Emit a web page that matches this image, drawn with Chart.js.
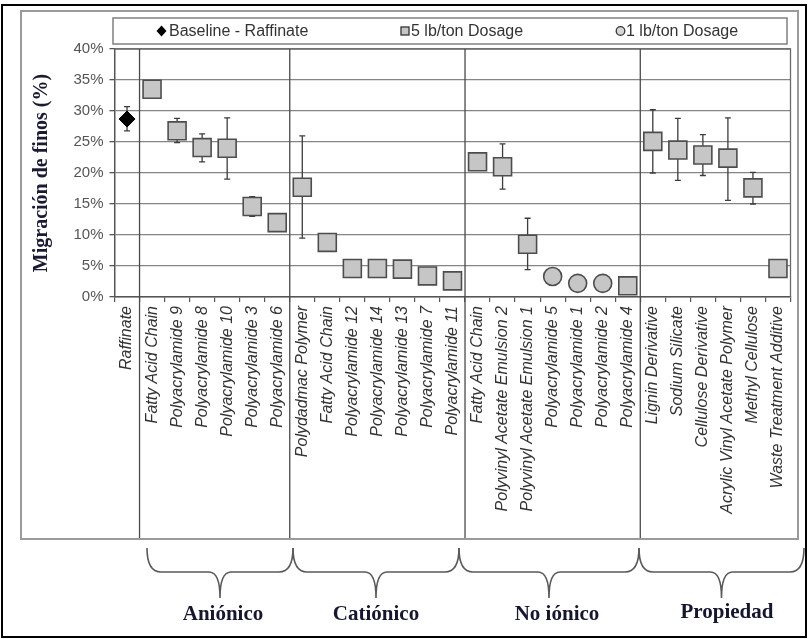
<!DOCTYPE html>
<html><head><meta charset="utf-8">
<script src="https://cdn.jsdelivr.net/npm/chart.js@4.4.1/dist/chart.umd.min.js"></script>
<style>html,body{margin:0;padding:0;background:#fff;} #wrap{width:809px;height:639px;position:relative;}</style>
</head><body><div id="wrap"><canvas id="c" width="809" height="639"></canvas></div>
<script>
const categories = ['Raffinate','Fatty Acid Chain','Polyacrylamide 9','Polyacrylamide 8','Polyacrylamide 10','Polyacrylamide 3','Polyacrylamide 6','Polydadmac Polymer','Fatty Acid Chain','Polyacrylamide 12','Polyacrylamide 14','Polyacrylamide 13','Polyacrylamide 7','Polyacrylamide 11','Fatty Acid Chain','Polyvinyl Acetate Emulsion 2','Polyvinyl Acetate Emulsion 1','Polyacrylamide 5','Polyacrylamide 1','Polyacrylamide 2','Polyacrylamide 4','Lignin Derivative','Sodium Silicate','Cellulose Derivative','Acrylic Vinyl Acetate Polymer','Methyl Cellulose','Waste Treatment Additive'];
const baselineValues = [28.7,null,null,null,null,null,null,null,null,null,null,null,null,null,null,null,null,null,null,null,null,null,null,null,null,null,null];
const dose5Values = [null,33.5,26.8,24.1,24.0,14.6,12.0,17.7,8.8,4.6,4.6,4.5,3.4,2.6,21.8,21.0,8.5,null,null,null,1.8,25.1,23.7,22.9,22.4,17.6,4.6];
const dose1Values = [null,null,null,null,null,null,null,null,null,null,null,null,null,null,null,null,null,3.3,2.2,2.2,null,null,null,null,null,null,null];
const errorHigh = [30.7,null,28.8,26.3,28.9,16.2,null,26.0,null,null,null,null,null,null,null,24.7,12.7,null,null,null,null,30.2,28.8,26.2,28.9,20.1,null];
const errorLow  = [26.8,null,24.9,21.8,19.0,13.0,null,9.5,null,null,null,null,null,null,null,17.4,4.4,null,null,null,null,20.0,18.8,19.6,15.6,15.0,null];
const groupNames = ['Aniónico','Catiónico','No iónico','Propiedad'];
const groupSizes = [6,7,7,6];
const legendLabels = ['Baseline - Raffinate','5 lb/ton Dosage','1 lb/ton Dosage'];
const yAxisTitle = 'Migración de finos (%)';

const SANS = "'Liberation Sans', Arial, sans-serif";
const SERIF = "'Liberation Serif', 'Times New Roman', serif";

function brace(c, x0, x1, yTop, yMid, yTip) {
  const xm = (x0 + x1) / 2;
  const r = 14, rm = 11;
  c.beginPath();
  c.moveTo(x0, yTop);
  c.quadraticCurveTo(x0, yMid, x0 + r, yMid);
  c.lineTo(xm - rm, yMid);
  c.quadraticCurveTo(xm, yMid, xm, yTip);
  c.quadraticCurveTo(xm, yMid, xm + rm, yMid);
  c.lineTo(x1 - r, yMid);
  c.quadraticCurveTo(x1, yMid, x1, yTop);
  c.stroke();
}

const decor = {
  id: 'decor',
  beforeDraw(chart) {
    const c = chart.ctx;
    c.save(); c.fillStyle = '#fff'; c.fillRect(0, 0, chart.width, chart.height); c.restore();
  },
  beforeDatasetsDraw(chart) {
    const c = chart.ctx, x = chart.scales.x, y = chart.scales.y, a = chart.chartArea;
    c.save();
    c.strokeStyle = '#6a6a6a'; c.lineWidth = 1.3;
    c.beginPath(); c.moveTo(a.left, a.top); c.lineTo(a.right, a.top); c.lineTo(a.right, a.bottom); c.stroke();
    // group separators
    c.strokeStyle = '#4a4a4a'; c.lineWidth = 1.3;
    let b = 1;
    const bounds = [b];
    groupSizes.slice(0, -1).forEach(s => { b += s; bounds.push(b); });
    bounds.forEach(k => {
      const px = (x.getPixelForValue(k - 1) + x.getPixelForValue(k)) / 2;
      c.beginPath(); c.moveTo(px, a.top); c.lineTo(px, 539); c.stroke();
    });
    // error bars
    c.strokeStyle = '#3c3c3c'; c.lineWidth = 1.3;
    categories.forEach((_, i) => {
      if (errorHigh[i] == null) return;
      const px = x.getPixelForValue(i);
      const yh = y.getPixelForValue(errorHigh[i]), yl = y.getPixelForValue(errorLow[i]);
      c.beginPath();
      c.moveTo(px, yh); c.lineTo(px, yl);
      c.moveTo(px - 3, yh); c.lineTo(px + 3, yh);
      c.moveTo(px - 3, yl); c.lineTo(px + 3, yl);
      c.stroke();
    });
    c.restore();
  },
  afterDraw(chart) {
    const c = chart.ctx;
    c.save();
    // outer black frame
    c.strokeStyle = '#000'; c.lineWidth = 2;
    c.strokeRect(2, 5, 804, 632);
    // gray table frame
    c.strokeStyle = '#9a9a9a'; c.lineWidth = 2;
    c.strokeRect(21, 11, 777, 528);
    // legend box
    c.strokeStyle = '#808080'; c.lineWidth = 1.5;
    c.strokeRect(113, 18, 674, 26);
    const ly = 31;
    // diamond
    c.fillStyle = '#000';
    c.beginPath(); c.moveTo(161.5, ly - 5.5); c.lineTo(166.5, ly); c.lineTo(161.5, ly + 5.5); c.lineTo(156.5, ly); c.closePath(); c.fill();
    // square
    c.fillStyle = '#c6c6c6'; c.strokeStyle = '#333'; c.lineWidth = 1.3;
    c.fillRect(401, ly - 4, 8, 8); c.strokeRect(401, ly - 4, 8, 8);
    // circle
    c.fillStyle = '#d6d6d6';
    c.beginPath(); c.arc(620.5, ly, 4.3, 0, Math.PI * 2); c.fill(); c.stroke();
    c.fillStyle = '#333'; c.font = '16px ' + SANS; c.textBaseline = 'middle'; c.textAlign = 'left';
    c.fillText(legendLabels[0], 169, ly + 1);
    c.fillText(legendLabels[1], 411, ly + 1);
    c.fillText(legendLabels[2], 626, ly + 1);
    // braces
    const ends = [147, 293, 459, 639, 804];
    c.strokeStyle = '#5a5a5a'; c.lineWidth = 1.6;
    for (let i = 0; i < groupNames.length; i++) brace(c, ends[i], ends[i + 1], 548, 572, 598);
    // group names
    c.fillStyle = '#16162e'; c.font = 'bold 21px ' + SERIF; c.textAlign = 'center'; c.textBaseline = 'middle';
    const lx = [223, 376, 557, 727];
    groupNames.forEach((g, i) => c.fillText(g, lx[i], i === 3 ? 613 : 615));
    c.restore();
  }
};

new Chart(document.getElementById('c'), {
  type: 'line',
  data: {
    labels: categories,
    datasets: [
      { label: legendLabels[0], data: baselineValues, showLine: false, pointStyle: 'rectRot', pointRadius: 8, pointHoverRadius: 8, pointBackgroundColor: '#000', pointBorderColor: '#000', pointBorderWidth: 1 },
      { label: legendLabels[1], data: dose5Values, showLine: false, pointStyle: 'rect', pointRadius: 12.7, pointHoverRadius: 12.7, pointBackgroundColor: '#c6c6c6', pointBorderColor: '#4d4d4d', pointBorderWidth: 1.6 },
      { label: legendLabels[2], data: dose1Values, showLine: false, pointStyle: 'circle', pointRadius: 9, pointHoverRadius: 9, pointBackgroundColor: '#c6c6c6', pointBorderColor: '#4d4d4d', pointBorderWidth: 1.6 }
    ]
  },
  options: {
    responsive: false, animation: false, devicePixelRatio: 1, events: [],
    layout: { padding: { left: 0, top: 49, right: 18.5, bottom: 0 } },
    plugins: { legend: { display: false }, tooltip: { enabled: false } },
    scales: {
      x: {
        offset: true,
        grid: { offset: true, drawOnChartArea: false, drawTicks: true, tickLength: 5, tickColor: '#555', lineWidth: 1.2 },
        border: { color: '#555', width: 1.5 },
        ticks: { autoSkip: false, minRotation: 90, maxRotation: 90, padding: 4, color: '#333', font: { family: SANS, size: 16, style: 'italic' } },
        afterFit(s) { s.height = 342; }
      },
      y: {
        min: 0, max: 40,
        ticks: { stepSize: 5, padding: 6, color: '#555', font: { family: SANS, size: 15 }, callback: v => v + '%' },
        grid: { color: '#858585', lineWidth: 1.3, tickLength: 5, tickColor: '#555' },
        border: { color: '#555', width: 1.5 },
        title: { display: true, text: yAxisTitle, color: '#1a1a33', font: { family: SERIF, size: 20, weight: 'bold' }, padding: { top: 30, bottom: 0 } },
        afterFit(s) { s.width = 114.5; }
      }
    }
  },
  plugins: [decor]
});
</script>
</body></html>
